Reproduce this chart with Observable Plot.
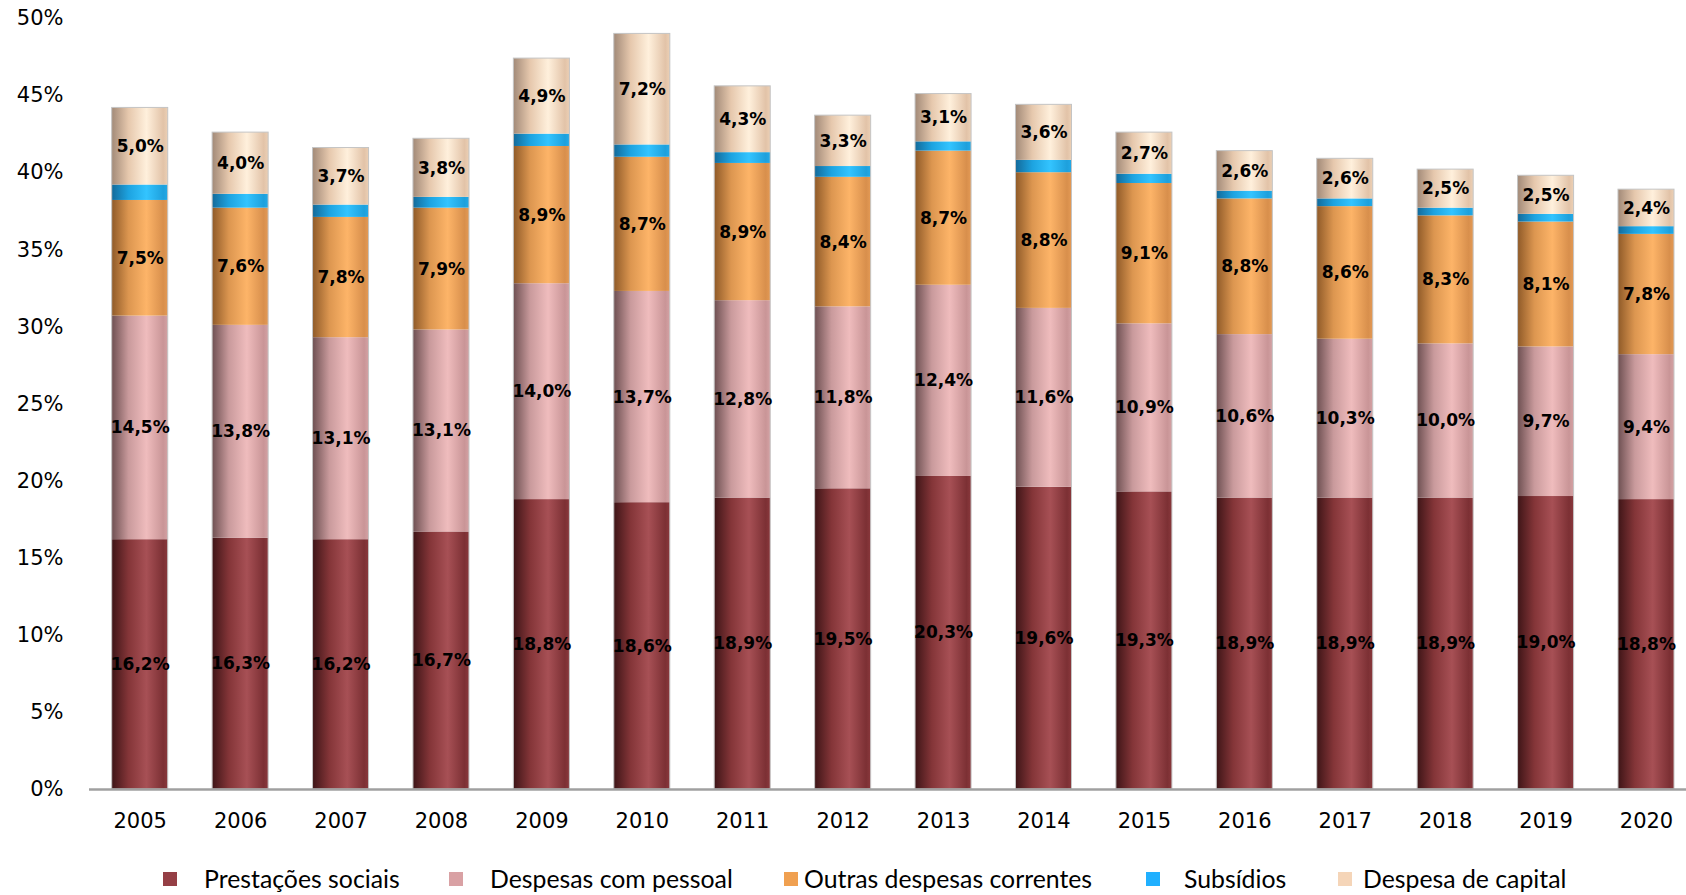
<!DOCTYPE html>
<html><head><meta charset="utf-8">
<script src="https://cdn.jsdelivr.net/npm/d3@7"></script>
<script src="https://cdn.jsdelivr.net/npm/@observablehq/plot@0.6"></script>
<style>
html,body{margin:0;padding:0;background:#fff;overflow:hidden;}
#chart{position:relative;width:1686px;height:895px;}
#legend{position:relative;width:1686px;height:50px;font-family:Lato,"Open Sans",sans-serif;font-size:24.8px;color:#000;}
.item{position:absolute;top:0;height:50px;}
.sw{position:absolute;top:27px;width:14px;height:14px;}
.lb{position:absolute;top:20px;line-height:28px;white-space:nowrap;}
</style></head>
<body><div id="chart"></div>
<script>
const years = ["2005","2006","2007","2008","2009","2010","2011","2012","2013","2014","2015","2016","2017","2018","2019","2020"];
const seriesNames = ["Prestações sociais","Despesas com pessoal","Outras despesas correntes","Subsídios","Despesa de capital"];
const prestacoesSociais = [16.2,16.3,16.2,16.7,18.8,18.6,18.9,19.5,20.3,19.6,19.3,18.9,18.9,18.9,19.0,18.8];
const despesasPessoal   = [14.5,13.8,13.1,13.1,14.0,13.7,12.8,11.8,12.4,11.6,10.9,10.6,10.3,10.0,9.7,9.4];
const outrasCorrentes   = [7.5,7.6,7.8,7.9,8.9,8.7,8.9,8.4,8.7,8.8,9.1,8.8,8.6,8.3,8.1,7.8];
const subsidios         = [1.0,0.9,0.8,0.7,0.8,0.8,0.7,0.7,0.6,0.8,0.6,0.5,0.5,0.5,0.5,0.5];
const despesaCapital    = [5.0,4.0,3.7,3.8,4.9,7.2,4.3,3.3,3.1,3.6,2.7,2.6,2.6,2.5,2.5,2.4];
const showLabel = [true,true,true,false,true];
const yTicks = [0,5,10,15,20,25,30,35,40,45,50];

// cylinder shading stops per series, and legend swatch colour
const shading = [
  ["#3e1517","#843538","#a75055","#7c3034","#8a383c"],
  ["#6e5052","#c99a9c","#efbcbd","#c99597","#d4a2a4"],
  ["#8f5a28","#dc9650","#fdb468","#d88f4c","#e49a55"],
  ["#136a9a","#1da3e0","#33c4ff","#1ea0dc","#22aae8"],
  ["#a28a78","#e6c8ad","#fff0dc","#e2c3a8","#ecd0b5"]
];
const swatch = ["#953f45","#d9a1a4","#f0a050","#20b0ff","#f5d5b8"];
const stopOffsets = [0, 0.3, 0.62, 0.92, 1];

const cols = [prestacoesSociais, despesasPessoal, outrasCorrentes, subsidios, despesaCapital];
const rows = years.flatMap((yr, i) => seriesNames.map((s, j) => ({
  year: yr, series: s, value: cols[j][i],
  label: showLabel[j] ? cols[j][i].toFixed(1).replace(".", ",") + "%" : null
})));
const totals = years.map((yr, i) => ({year: yr, total: d3.sum(cols, c => c[i])}));

const gradIds = seriesNames.map((s, j) => `url(#grad${j})`);

const svg = Plot.plot({
  width: 1686, height: 845,
  marginLeft: 89, marginRight: 0, marginTop: 18, marginBottom: 56,
  style: {background: "#fff", overflow: "visible"},
  x: {domain: years, range: [89.5, 1696.2], paddingInner: 0.442, paddingOuter: 0.221, round: false, label: null},
  y: {domain: [0, 50], label: null},
  color: {domain: seriesNames, range: gradIds},
  marks: [
    Plot.barY(rows, {x: "year", y: "value", fill: "series", z: "series", order: seriesNames}),
    Plot.barY(totals, {x: "year", y: "total", fill: "none", stroke: "#c4c4c4", strokeWidth: 1}),
    Plot.ruleY([0], {stroke: "#a0a0a0", strokeWidth: 2.5}),
    Plot.text(rows, Plot.stackY({x: "year", y: "value", z: "series", order: seriesNames, text: "label",
      fontFamily: "DejaVu Sans", fontWeight: "bold", fontSize: 17, fill: "#000"})),
    Plot.axisX({tickSize: 0, tickPadding: 24, fontSize: 21, fontFamily: "DejaVu Sans", fill: "#000", label: null}),
    Plot.axisY({ticks: yTicks, tickFormat: d => d + "%", tickSize: 0, tickPadding: 26, fontSize: 21, fontFamily: "DejaVu Sans", fill: "#000", label: null})
  ]
});

const defs = d3.select(svg).insert("defs", ":first-child");
shading.forEach((p, j) => {
  const g = defs.append("linearGradient").attr("id", `grad${j}`).attr("x1", 0).attr("x2", 1).attr("y1", 0).attr("y2", 0);
  p.forEach((c, k) => g.append("stop").attr("offset", stopOffsets[k]).attr("stop-color", c));
});

const chart = document.getElementById("chart");
chart.appendChild(svg);

const legendLeft = [163, 449, 784, 1146, 1338];
const legendTextOffset = [41, 41, 20, 38, 25];
const legend = d3.select(chart).append("div").attr("id", "legend");
seriesNames.forEach((s, j) => {
  const it = legend.append("div").attr("class", "item").style("left", legendLeft[j] + "px");
  it.append("div").attr("class", "sw").style("left", "0px").style("background", swatch[j]);
  it.append("div").attr("class", "lb").style("left", legendTextOffset[j] + "px").text(s);
});
</script></body></html>
